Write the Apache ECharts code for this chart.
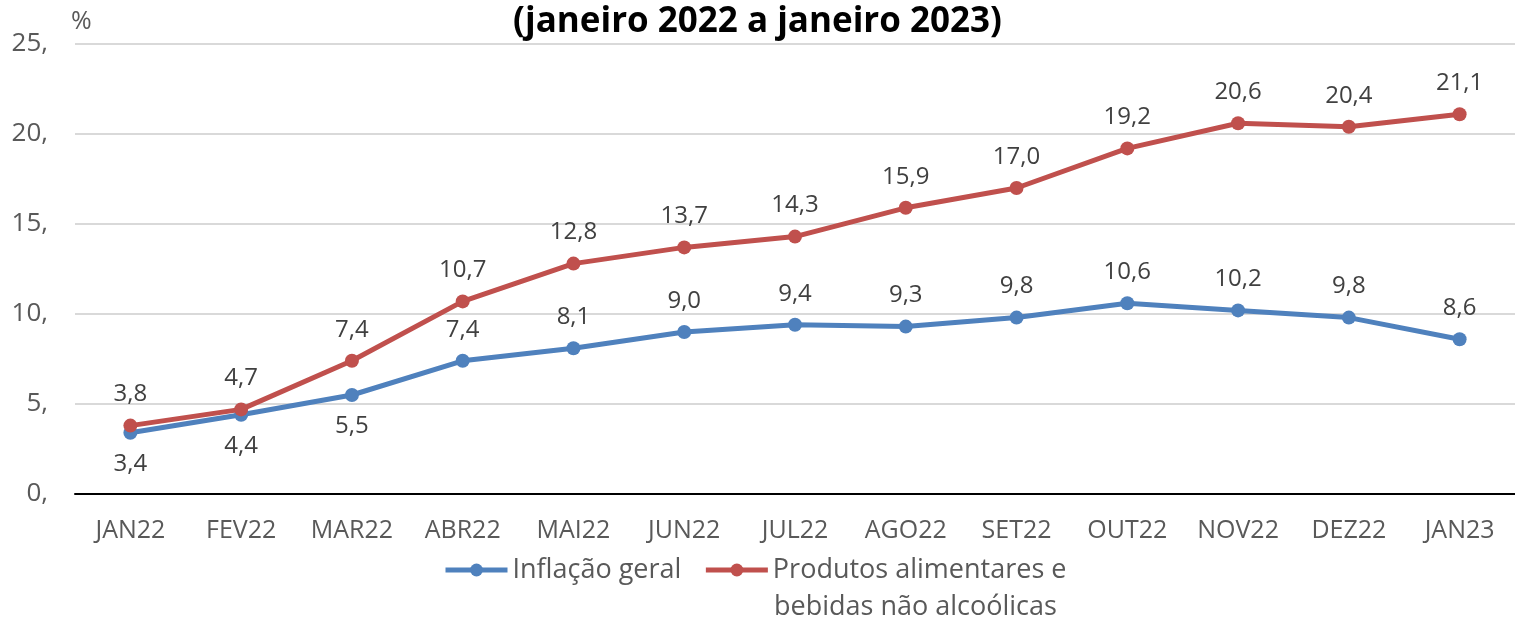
<!DOCTYPE html>
<html>
<head>
<meta charset="utf-8">
<script src="https://cdn.jsdelivr.net/npm/echarts@6/dist/echarts.min.js"></script>
<style>
  html, body { margin: 0; padding: 0; background: #fff; }
  #chart { width: 1515px; height: 620px; }
</style>
</head>
<body>
<div id="chart"></div>
<script>
const months = ['JAN22', 'FEV22', 'MAR22', 'ABR22', 'MAI22', 'JUN22', 'JUL22', 'AGO22', 'SET22', 'OUT22', 'NOV22', 'DEZ22', 'JAN23'];
const inflacaoGeral = [3.4, 4.4, 5.5, 7.4, 8.1, 9.0, 9.4, 9.3, 9.8, 10.6, 10.2, 9.8, 8.6];
const alimentares = [3.8, 4.7, 7.4, 10.7, 12.8, 13.7, 14.3, 15.9, 17.0, 19.2, 20.6, 20.4, 21.1];
const yTicks = [0, 5, 10, 15, 20, 25];

const FONT = 'Open Sans';
const fmt = v => v.toFixed(1).replace('.', ',');
const redName = 'Produtos alimentares e\nbebidas não alcoólicas';

const chart = echarts.init(document.getElementById('chart'));

const option = {
  animation: false,
  textStyle: { fontFamily: FONT },
  title: {
    text: '(janeiro 2022 a janeiro 2023)',
    left: 'center',
    top: 5,
    padding: 0,
    textStyle: { fontFamily: FONT, fontSize: 35, fontWeight: 'bold', color: '#000' }
  },
  grid: { left: 75, top: 44, width: 1443, height: 450 },
  legend: {
    left: 443,
    top: 553,
    padding: 0,
    itemWidth: 62,
    itemHeight: 16,
    itemGap: 22,
    lineStyle: { width: 5 },
    textStyle: { fontSize: 27, color: '#595959', lineHeight: 34 },
    formatter: name => name.split('\n')[0],
    data: ['Inflação geral', redName]
  },
  // second line of the red legend entry
  graphic: [{
    type: 'text',
    left: 774,
    top: 594,
    style: { text: redName.split('\n')[1], fontFamily: FONT, fontSize: 27, fill: '#595959' }
  }],
  xAxis: {
    type: 'category',
    data: months,
    boundaryGap: true,
    axisLine: { lineStyle: { color: '#000', width: 2 } },
    axisTick: { show: false },
    axisLabel: { fontSize: 25, color: '#595959', margin: 24 }
  },
  yAxis: {
    type: 'value',
    min: yTicks[0],
    max: yTicks[yTicks.length - 1],
    interval: 5,
    name: '%',
    nameLocation: 'end',
    nameGap: 10,
    nameTextStyle: { fontSize: 25, color: '#595959', align: 'left', padding: [0, 0, 0, -4] },
    axisLine: { show: false },
    axisTick: { show: false },
    splitLine: { lineStyle: { color: '#d9d9d9', width: 2 } },
    axisLabel: { fontSize: 26, color: '#595959', margin: 27, formatter: v => v + ',' }
  },
  series: [
    {
      name: 'Inflação geral',
      type: 'line',
      data: inflacaoGeral.map((v, i) => i < 3
        ? { value: v, label: { position: 'bottom', distance: 12 } }
        : v),
      symbol: 'circle',
      symbolSize: 14,
      z: 2,
      lineStyle: { color: '#4f81bd', width: 5 },
      itemStyle: { color: '#4f81bd' },
      label: {
        show: true,
        fontSize: 24,
        color: '#404040',
        distance: 12,
        position: 'top',
        formatter: p => fmt(p.value)
      },
      labelLayout: { hideOverlap: false }
    },
    {
      name: redName,
      type: 'line',
      data: alimentares,
      symbol: 'circle',
      symbolSize: 14,
      z: 3,
      lineStyle: { color: '#c0504d', width: 5 },
      itemStyle: { color: '#c0504d' },
      label: {
        show: true,
        fontSize: 24,
        color: '#404040',
        distance: 12,
        position: 'top',
        formatter: p => fmt(p.value)
      }
    }
  ]
};

chart.setOption(option);
</script>
</body>
</html>
